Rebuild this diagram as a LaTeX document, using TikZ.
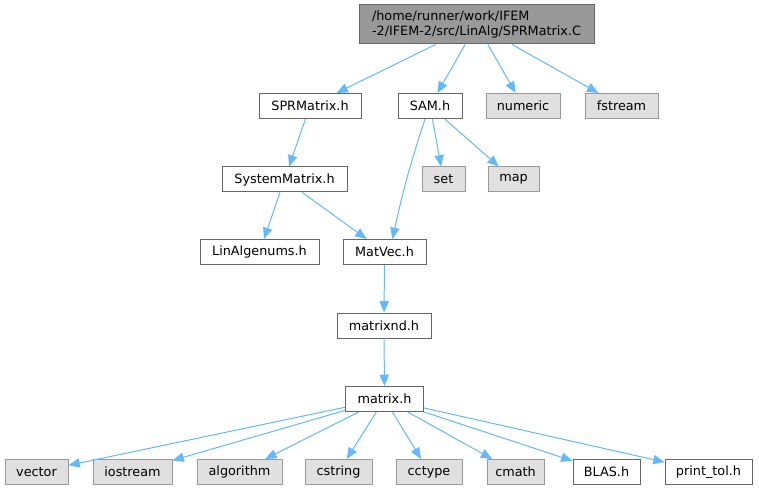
\documentclass[tikz,border=0pt]{standalone}
\usepackage{fontspec}
\setmainfont{DejaVu Sans}
\usetikzlibrary{arrows.meta,calc}
\definecolor{edgeblue}{HTML}{63B8FF}
\definecolor{rootfill}{HTML}{999999}
\definecolor{darkborder}{HTML}{666666}
\definecolor{sysfill}{HTML}{E0E0E0}
\definecolor{sysborder}{HTML}{999999}
\begin{document}
\begin{tikzpicture}[x=0.75pt,y=-0.75pt,
  base/.style={draw, line width=0.75pt, inner sep=0pt, minimum height=18.75pt,
    font=\fontsize{9.6}{11.5}\selectfont, anchor=center},
  filebox/.style={base, draw=darkborder, fill=white},
  sysbox/.style={base, draw=sysborder, fill=sysfill},
  rootbox/.style={base, draw=darkborder, fill=rootfill, minimum height=29.25pt, align=left},
  edge/.style={draw=edgeblue, line width=0.75pt, -{Triangle[length=8.5pt,width=7pt]}}]
\useasboundingbox (0,0) rectangle (759,491);
\node[rootbox, minimum width=176.25pt] (root) at (476.5,24.5) {/home/runner/work/IFEM\\-2/IFEM-2/src/LinAlg/SPRMatrix.C};
\node[filebox, minimum width=76.5pt] (spr) at (310,106) {SPRMatrix.h};
\node[filebox, minimum width=48pt] (sam) at (430,106) {SAM.h};
\node[sysbox, minimum width=55.5pt] (numeric) at (523,106) {numeric};
\node[sysbox, minimum width=54.75pt] (fstream) at (621.5,106) {fstream};
\node[filebox, minimum width=93.75pt] (sysm) at (284.5,179.5) {SystemMatrix.h};
\node[sysbox, minimum width=32.25pt] (set) at (443.5,179.5) {set};
\node[sysbox, minimum width=38.25pt] (map) at (513.5,179.5) {map};
\node[filebox, minimum width=89.25pt] (linalg) at (259.5,252) {LinAlgenums.h};
\node[filebox, minimum width=62.25pt] (matvec) at (384.5,252) {MatVec.h};
\node[filebox, minimum width=70.5pt] (matrixnd) at (384,325.5) {matrixnd.h};
\node[filebox, minimum width=58.5pt] (matrix) at (384.5,399) {matrix.h};
\node[sysbox, minimum width=47.25pt] (vector) at (36.5,472) {vector};
\node[sysbox, minimum width=59.25pt] (iostream) at (132.5,472) {iostream};
\node[sysbox, minimum width=63.75pt] (algorithm) at (239.5,472) {algorithm};
\node[sysbox, minimum width=50.25pt] (cstring) at (338.5,472) {cstring};
\node[sysbox, minimum width=49.5pt] (cctype) at (429,472) {cctype};
\node[sysbox, minimum width=42.75pt] (cmath) at (515.5,472) {cmath};
\node[filebox, minimum width=50.25pt] (blas) at (606.5,472) {BLAS.h};
\node[filebox, minimum width=65.25pt] (printtol) at (708.5,472) {print\_tol.h};
\draw[edge] (root) -- (spr);
\draw[edge] (root) -- (sam);
\draw[edge] (root) -- (numeric);
\draw[edge] (root) -- (fstream);
\draw[edge] (spr) -- (sysm);
\draw[edge] ($(sam.south)+(-5,0)$) to[bend right=3] ($(matvec.north)+(8,0)$);
\draw[edge] (sam) -- (set);
\draw[edge] (sam) -- (map);
\draw[edge] (sysm) -- (linalg);
\draw[edge] (sysm) -- (matvec);
\draw[edge] (matvec) -- (matrixnd);
\draw[edge] (matrixnd) -- (matrix);
\draw[edge] (matrix) -- (vector);
\draw[edge] (matrix) -- (iostream);
\draw[edge] (matrix) -- (algorithm);
\draw[edge] (matrix) -- (cstring);
\draw[edge] (matrix) -- (cctype);
\draw[edge] (matrix) -- (cmath);
\draw[edge] (matrix) -- (blas);
\draw[edge] (matrix) -- (printtol);
\end{tikzpicture}
\end{document}
